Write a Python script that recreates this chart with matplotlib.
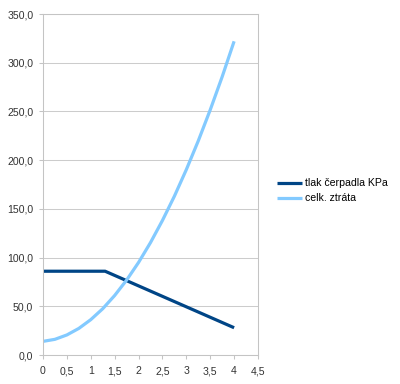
import matplotlib.pyplot as plt
import matplotlib as mpl
from matplotlib.ticker import MultipleLocator, FuncFormatter

mpl.rcParams['font.family'] = ['Liberation Sans', 'DejaVu Sans']
mpl.rcParams['font.size'] = 7.6

# data
x_pump = [0, 1.3, 4]
tlak = [86, 86, 28]

x_loss = [0, 0.25, 0.5, 0.75, 1, 1.25, 1.5, 1.75, 2, 2.25, 2.5, 2.75, 3, 3.25, 3.5, 3.75, 4]
ztrata = [14, 16.1, 20.6, 27.3, 36.3, 47.5, 61.1, 76.9, 95, 115.4, 138.1, 163, 190.3, 219.8, 251.6, 285.6, 322]

names = ['tlak čerpadla KPa', 'celk. ztráta']
colors = ['#004586', '#83caff']

fig = plt.figure(figsize=(4, 3.84), dpi=100)
ax = fig.add_axes([0.1075, 0.0755, 0.5375, 0.888])

ax.plot(x_pump, tlak, color=colors[0], lw=2.3, label=names[0], solid_capstyle='butt')
ax.plot(x_loss, ztrata, color=colors[1], lw=2.3, label=names[1], solid_capstyle='butt')

ax.set_xlim(0, 4.5)
ax.set_ylim(0, 350)
ax.xaxis.set_major_locator(MultipleLocator(0.5))
ax.yaxis.set_major_locator(MultipleLocator(50))
ax.xaxis.set_major_formatter(FuncFormatter(lambda v, p: ('%g' % v).replace('.', ',')))
ax.yaxis.set_major_formatter(FuncFormatter(lambda v, p: ('%.1f' % v).replace('.', ',')))

ax.grid(axis='y', color='#cccccc', lw=0.75)
ax.set_axisbelow(True)
for s in ax.spines.values():
    s.set_color('#c4c4c4')
    s.set_linewidth(0.75)
ax.tick_params(colors='#c4c4c4', labelcolor='#333333', length=3, width=0.75)
ax.tick_params(axis='x', pad=5)
ax.tick_params(axis='y', pad=4)

fig.legend(loc='center left', bbox_to_anchor=(0.692, 0.503), frameon=False,
           borderpad=0, borderaxespad=0,
           handlelength=2.4, handletextpad=0.3, labelspacing=0.45)

plt.savefig('out.png', dpi=100)
